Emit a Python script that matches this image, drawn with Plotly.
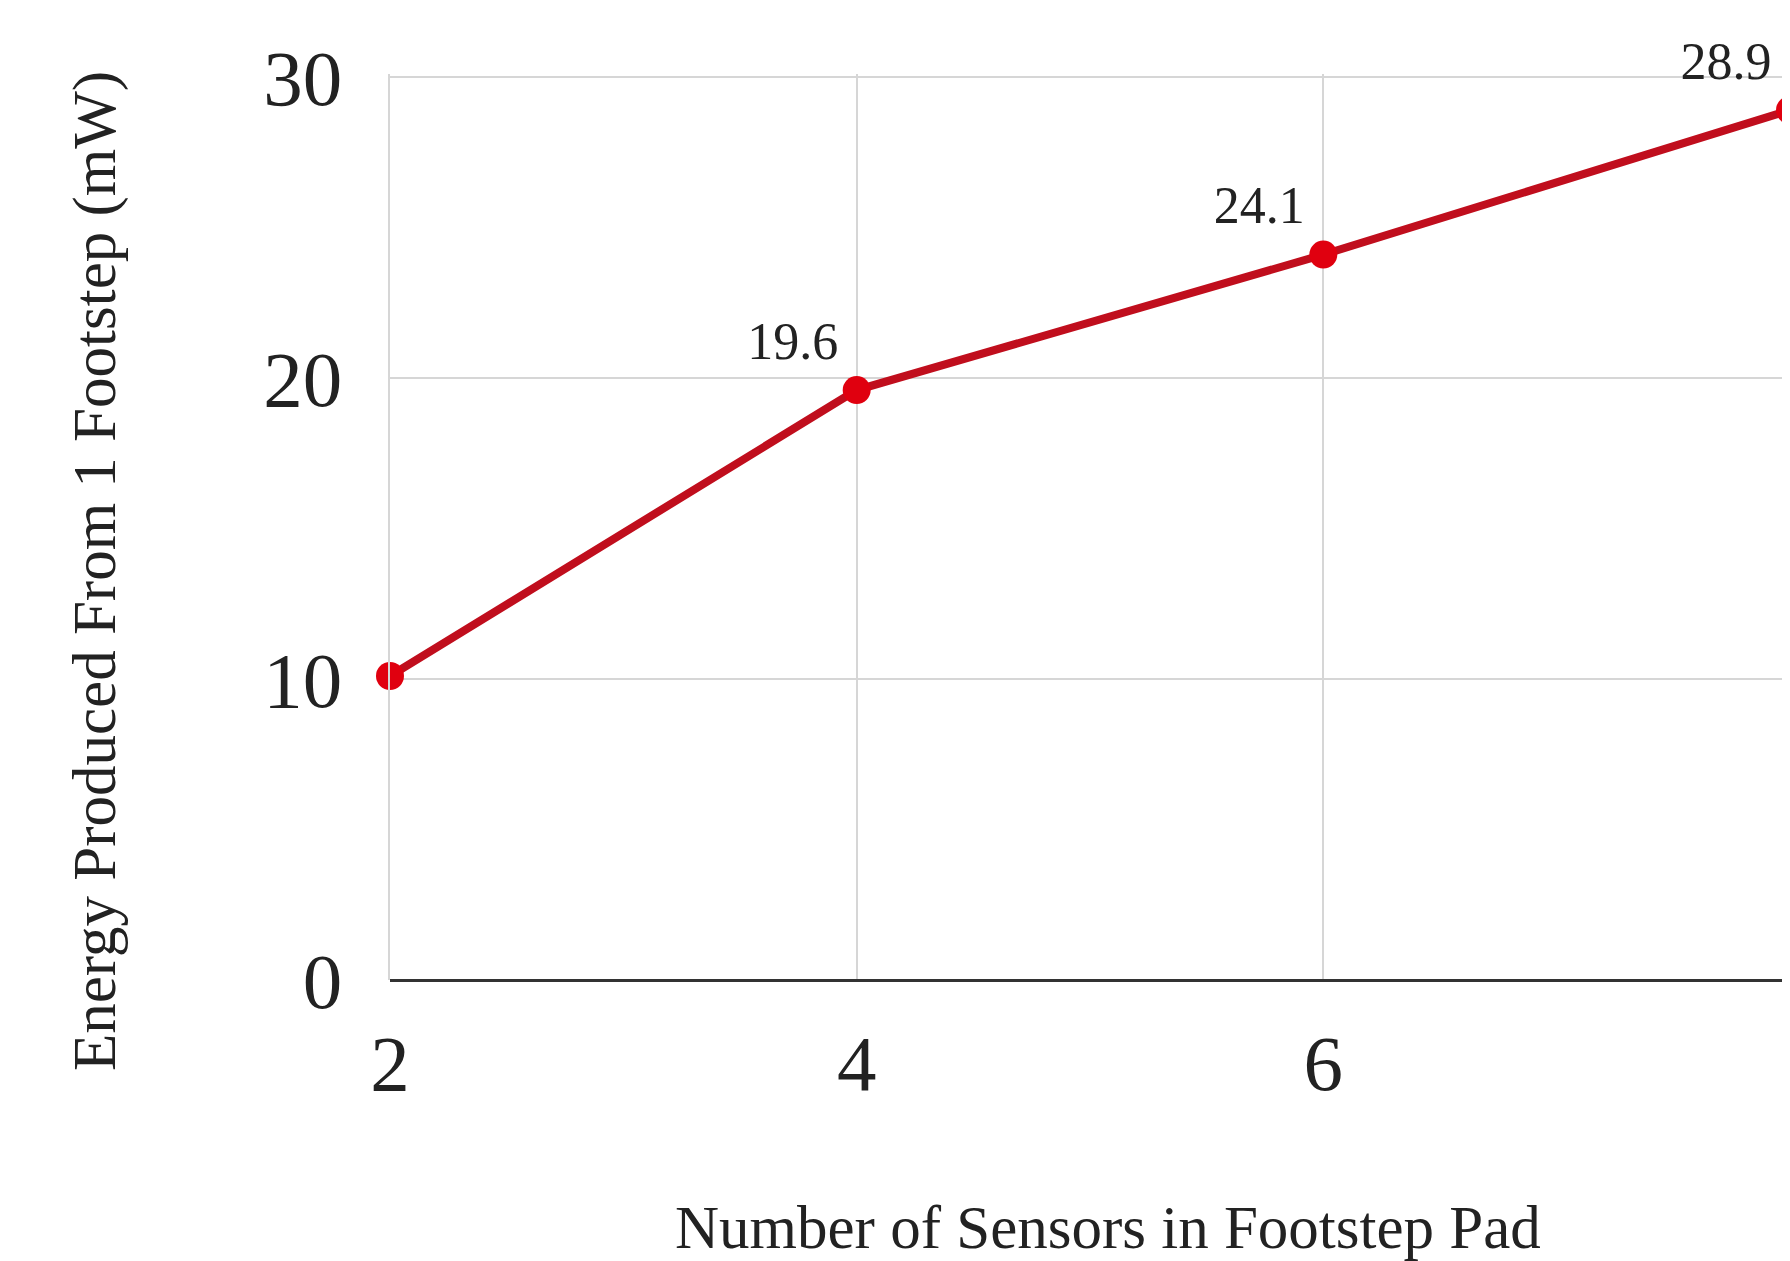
import plotly.graph_objects as go

sensors = [2, 4, 6, 8]
energy_mw = [10.1, 19.6, 24.1, 28.9]
point_labels = ["", "19.6", "24.1", "28.9"]
y_ticks = [0, 10, 20, 30]
x_ticks = [2, 4, 6, 8]

x_title = "Number of Sensors in Footstep Pad"
y_title = "Energy Produced From 1 Footstep (mW)"

FONT = "Liberation Serif, Times New Roman, serif"
TXT = "#222222"

W, H = 1782, 1253
L, T, B, R = 382, 66, 281, 0
PW, PH = W - L - R, H - T - B

fig = go.Figure()
fig.add_trace(go.Scatter(
    x=sensors, y=energy_mw,
    mode="lines+markers+text",
    text=point_labels,
    textposition="top left",
    textfont=dict(family=FONT, size=52, color=TXT),
    line=dict(color="#c00e1d", width=8),
    marker=dict(color="#e0000f", size=28),
    cliponaxis=False,
    showlegend=False,
))

fig.update_layout(
    width=W, height=H,
    paper_bgcolor="white", plot_bgcolor="white",
    margin=dict(l=L, r=R, t=T, b=B, autoexpand=False),
    font=dict(family=FONT, color=TXT),
    annotations=[
        dict(
            text=y_title, textangle=-90, showarrow=False,
            xref="paper", yref="paper",
            x=(87 - L) / PW, y=1 - (563 - T) / PH,
            xanchor="center", yanchor="middle",
            font=dict(family=FONT, size=61, color=TXT),
        ),
        dict(
            text=x_title, showarrow=False,
            xref="paper", yref="paper",
            x=(1100 - L) / PW, y=1 - (1219 - T) / PH,
            xanchor="center", yanchor="middle",
            font=dict(family=FONT, size=61, color=TXT),
        ),
    ],
)
fig.update_xaxes(
    range=[2, 8],
    tickvals=x_ticks,
    tickfont=dict(family=FONT, size=79, color=TXT),
    ticklabelstandoff=30,
    showgrid=True, gridcolor="#d6d6d6", gridwidth=2,
    zeroline=False, showline=False,
)
fig.update_yaxes(
    range=[0, 30.1],
    tickvals=y_ticks,
    tickfont=dict(family=FONT, size=79, color=TXT),
    ticklabelstandoff=30,
    showgrid=True, gridcolor="#d6d6d6", gridwidth=2,
    zeroline=True, zerolinecolor="#333333", zerolinewidth=3,
    showline=True, linecolor="#d6d6d6", linewidth=2,
)

fig.write_html("out.html")
